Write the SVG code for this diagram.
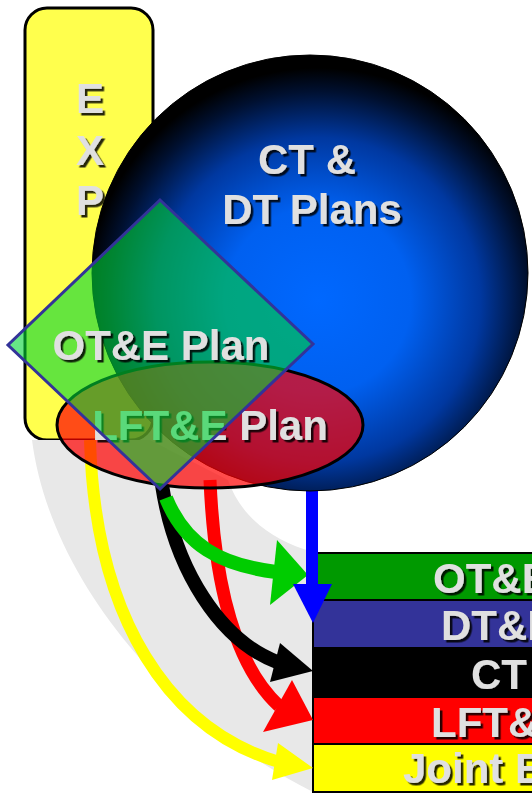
<svg xmlns="http://www.w3.org/2000/svg" width="532" height="795" viewBox="0 0 532 795">
<defs>
<radialGradient id="sph" gradientUnits="userSpaceOnUse" cx="318" cy="300" r="232">
<stop offset="0" stop-color="#0068ff"/>
<stop offset="0.4" stop-color="#0060f0"/>
<stop offset="0.7" stop-color="#0038a0"/>
<stop offset="0.9" stop-color="#001030"/>
<stop offset="1" stop-color="#000000"/>
</radialGradient>
<filter id="sh" x="-10%" y="-20%" width="130%" height="150%">
<feDropShadow dx="2.5" dy="2.5" stdDeviation="0.6" flood-color="#000" flood-opacity="0.85"/>
</filter>
</defs>
<style>
.lbl{font-family:"Liberation Sans",Arial,sans-serif;font-weight:bold;font-size:42px;fill:#e0e0e0;filter:url(#sh)}
.mid{text-anchor:middle}
.bar{stroke:#000;stroke-width:2}
.ln{fill:none}
</style>

<g id="exp">
<rect x="25" y="8" width="128" height="432" rx="22" fill="#ffff4d" stroke="#000" stroke-width="3"/>
<text class="lbl mid" x="90" y="113">E</text>
<text class="lbl mid" x="90" y="165">X</text>
<text class="lbl mid" x="90" y="215">P</text>
</g>

<g id="swoosh">
<path d="M32 440 C50 580 170 720 313 792 L313 552 C270 540 240 515 228 480 L150 440 Z" fill="#e8e8e8"/>
</g>

<g id="reports">
<rect class="bar" x="313" y="553" width="230" height="47" fill="#009900"/>
<rect class="bar" x="313" y="600" width="230" height="48" fill="#333399"/>
<rect class="bar" x="313" y="648" width="230" height="49" fill="#000000"/>
<rect class="bar" x="313" y="697" width="230" height="47" fill="#ff0000"/>
<rect class="bar" x="313" y="744" width="230" height="48" fill="#ffff00"/>
<text class="lbl" x="433" y="593">OT&amp;E</text>
<text class="lbl" x="441" y="640">DT&amp;E</text>
<text class="lbl" x="471" y="689">CT</text>
<text class="lbl" x="431" y="737">LFT&amp;</text>
<text class="lbl" x="403" y="783">Joint E</text>
</g>

<g id="connectors">
<path class="ln" d="M90 440 C95 620 170 730 279 762" stroke="#ffff00" stroke-width="12"/>
<polygon points="313,768 278,743 272,780" fill="#ffff00"/>
<path class="ln" d="M210 480 C215 600 240 670 279 706" stroke="#ff0000" stroke-width="13"/>
<polygon points="313,720 292,680 263,732" fill="#ff0000"/>
<path class="ln" d="M162 485 C175 570 220 640 277 662" stroke="#000000" stroke-width="14"/>
<polygon points="313,671 280,643 270,682" fill="#000000"/>
<path class="ln" d="M166 498 C185 545 220 565 276 572" stroke="#00cc00" stroke-width="14"/>
<polygon points="308,575 277,540 270,605" fill="#00cc00"/>
<path class="ln" d="M312 490 L312 590" stroke="#0000ff" stroke-width="12"/>
<polygon points="293,584 332,584 313,623" fill="#0000ff"/>
</g>

<g id="ct-dt-plans">
<circle cx="310" cy="273" r="218" fill="url(#sph)" stroke="#000" stroke-width="1"/>
<text class="lbl mid" x="307" y="174">CT &amp;</text>
<text class="lbl mid" x="312" y="224">DT Plans</text>
</g>

<g id="lfte-plan">
<ellipse cx="210" cy="425" rx="153" ry="63" fill="#ff0000" fill-opacity="0.7" stroke="#000" stroke-width="3"/>
<text class="lbl mid" x="210" y="440">LFT&amp;E Plan</text>
</g>

<g id="ote-plan">
<polygon points="160,200 313,344 160,489 8,345" fill="#00d435" fill-opacity="0.6" stroke="#333399" stroke-width="3"/>
<text class="lbl mid" x="161" y="360">OT&amp;E Plan</text>
</g>
</svg>
